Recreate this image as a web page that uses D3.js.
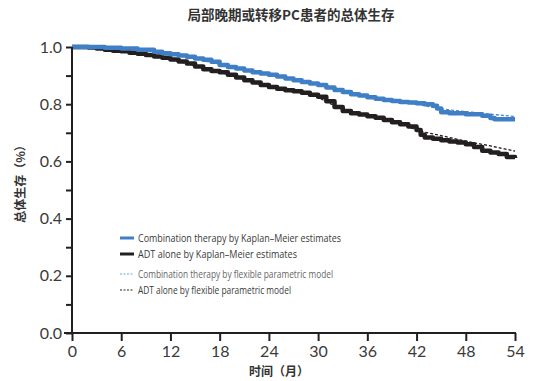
<!DOCTYPE html>
<html><head><meta charset="utf-8">
<script src="https://cdn.jsdelivr.net/npm/d3@7"></script>
<style>
html,body{margin:0;padding:0;background:#fff;}
svg{display:block;}
</style></head>
<body>
<svg id="chart" width="547" height="381"></svg>
<script>
const title = "局部晚期或转移PC患者的总体生存";
const xLabel = "时间（月）";
const yLabel = "总体生存（%）";
const xTicks = [0, 6, 12, 18, 24, 30, 36, 42, 48, 54];
const yTicks = [0, 0.1, 0.2, 0.3, 0.4, 0.5, 0.6, 0.7, 0.8, 0.9, 1.0];
const legendLabels = [
  "Combination therapy by Kaplan–Meier estimates",
  "ADT alone by Kaplan–Meier estimates",
  "Combination therapy by flexible parametric model",
  "ADT alone by flexible parametric model"
];

// Kaplan–Meier: combination therapy [month, survival]
const kmComboMonths = [0,2,4,6,8,10,11,12,13,14,15,16,17,18,19,20,21,22,23,24,25,26,27,28,29,30,31,32,33,34,35,36,37,38,39,40,41,42,43,44,44.5,45,46,48,50,51,51.5,54];
const kmComboValues = [1.0,1.0,0.997,0.995,0.99,0.983,0.978,0.975,0.97,0.966,0.96,0.955,0.948,0.937,0.93,0.925,0.918,0.912,0.907,0.903,0.897,0.89,0.884,0.878,0.872,0.867,0.858,0.85,0.843,0.835,0.83,0.824,0.819,0.815,0.811,0.808,0.806,0.803,0.80,0.795,0.785,0.772,0.768,0.765,0.76,0.752,0.747,0.747];

// Kaplan–Meier: ADT alone
const kmAdtMonths = [0,2,3,4,5,6,7,8,9,10,11,12,13,14,15,16,17,18,19,20,21,22,23,24,25,26,27,28,29,30,31,32,33,34,35,36,37,38,39,40,41,42,42.5,43,44,45,46,47,48,49,50,51,52,53,54];
const kmAdtValues = [1.0,0.998,0.995,0.99,0.987,0.985,0.98,0.976,0.972,0.967,0.962,0.956,0.949,0.942,0.932,0.922,0.916,0.912,0.903,0.893,0.884,0.876,0.867,0.86,0.854,0.849,0.845,0.84,0.833,0.826,0.81,0.79,0.776,0.768,0.764,0.758,0.753,0.745,0.737,0.73,0.722,0.71,0.693,0.684,0.679,0.674,0.67,0.666,0.66,0.65,0.637,0.631,0.626,0.615,0.612];

// Flexible parametric model fits
const fitComboMonths = [0,6,12,18,24,30,36,42,45,48,51,54];
const fitComboValues = [1.0,0.995,0.975,0.94,0.905,0.868,0.83,0.8,0.784,0.774,0.765,0.757];
const fitAdtMonths = [0,6,12,18,24,27,30,32,34,36,38,40,42,45,48,51,54];
const fitAdtValues = [1.0,0.985,0.955,0.912,0.862,0.847,0.823,0.795,0.772,0.76,0.746,0.731,0.71,0.69,0.671,0.654,0.636];

const svg = d3.select("#chart");
const x = d3.scaleLinear().domain([0, 54]).range([72, 515]);
const y = d3.scaleLinear().domain([0, 1]).range([333, 47]);
const ink = "#231f20";
const blue = "#3f7fc6";

// Title
svg.append("text").attr("x", 291).attr("y", 20).attr("text-anchor", "middle")
  .attr("font-family", "Noto Sans CJK SC").attr("font-weight", "bold")
  .attr("font-size", 13.5).attr("fill", "#333").text(title);

// Lines
const zip = (a, b) => a.map((d, i) => [d, b[i]]);
const stepLine = d3.line().x(d => x(d[0])).y(d => y(d[1])).curve(d3.curveStepAfter);
const smoothLine = d3.line().x(d => x(d[0])).y(d => y(d[1])).curve(d3.curveMonotoneX);

svg.append("path").attr("d", smoothLine(zip(fitComboMonths, fitComboValues)))
  .attr("fill", "none").attr("stroke", "#4a86c8").attr("stroke-width", 1.3).attr("stroke-dasharray", "3,2");
svg.append("path").attr("d", smoothLine(zip(fitAdtMonths, fitAdtValues)))
  .attr("fill", "none").attr("stroke", ink).attr("stroke-width", 1.3).attr("stroke-dasharray", "3,2");
svg.append("path").attr("d", stepLine(zip(kmAdtMonths, kmAdtValues)))
  .attr("fill", "none").attr("stroke", ink).attr("stroke-width", 4.5).attr("stroke-linejoin", "round");
svg.append("path").attr("d", stepLine(zip(kmComboMonths, kmComboValues)))
  .attr("fill", "none").attr("stroke", blue).attr("stroke-width", 4.5).attr("stroke-linejoin", "round");

// Axes
const yAxis = d3.axisLeft(y).tickValues(yTicks).tickSize(6).tickPadding(4)
  .tickFormat(d => (Math.round(d * 10) % 2 === 0) ? d3.format(".1f")(d) : "");
const gy = svg.append("g").attr("transform", "translate(72,0)").call(yAxis);
gy.select(".domain").attr("stroke", ink).attr("stroke-width", 2).attr("d", "M0,333V47");
gy.selectAll(".tick line").attr("stroke", ink).attr("stroke-width", 2);
gy.selectAll(".tick text").attr("font-family", "Lato, 'Open Sans', sans-serif")
  .attr("font-size", 16).attr("fill", "#3a3a3a");

const xAxis = d3.axisBottom(x).tickValues(xTicks).tickSize(8).tickPadding(5).tickFormat(d3.format("d"));
const gx = svg.append("g").attr("transform", "translate(0,333)").call(xAxis);
gx.select(".domain").attr("stroke", ink).attr("stroke-width", 2).attr("d", "M64,0H516");
gx.selectAll(".tick line").attr("stroke", ink).attr("stroke-width", 2);
gx.selectAll(".tick text").attr("font-family", "Lato, 'Open Sans', sans-serif")
  .attr("font-size", 16).attr("fill", "#3a3a3a");

// Axis labels
svg.append("text").attr("x", 279).attr("y", 376).attr("text-anchor", "middle")
  .attr("font-family", "Noto Sans CJK SC").attr("font-weight", "bold")
  .attr("font-size", 12).attr("fill", "#333").text(xLabel);
svg.append("text").attr("transform", "translate(25,181) rotate(-90)").attr("text-anchor", "middle")
  .attr("font-family", "Noto Sans CJK SC").attr("font-weight", "bold")
  .attr("font-size", 12).attr("fill", "#333").text(yLabel);

// Legend
const legendRows = [
  {y: 238, color: blue, w: 3, dash: null, len: 203, fill: "#3a3a3a"},
  {y: 254, color: ink, w: 3, dash: null, len: 159, fill: "#3a3a3a"},
  {y: 274, color: "#6fa3d8", w: 1, dash: "2,1.5", len: 195, fill: "#666"},
  {y: 290, color: ink, w: 1, dash: "2,1.5", len: 153, fill: "#3a3a3a"}
];
const lg = svg.append("g");
legendRows.forEach((r, i) => {
  lg.append("line").attr("x1", 120).attr("x2", 134).attr("y1", r.y).attr("y2", r.y)
    .attr("stroke", r.color).attr("stroke-width", r.w).attr("stroke-dasharray", r.dash);
  lg.append("text").attr("x", 138).attr("y", r.y).attr("dy", "0.35em")
    .attr("font-family", "'Open Sans', sans-serif").attr("font-size", i < 2 ? 11 : 10.5)
    .attr("textLength", r.len).attr("lengthAdjust", "spacingAndGlyphs")
    .attr("fill", r.fill).text(legendLabels[i]);
});
</script>
</body></html>
